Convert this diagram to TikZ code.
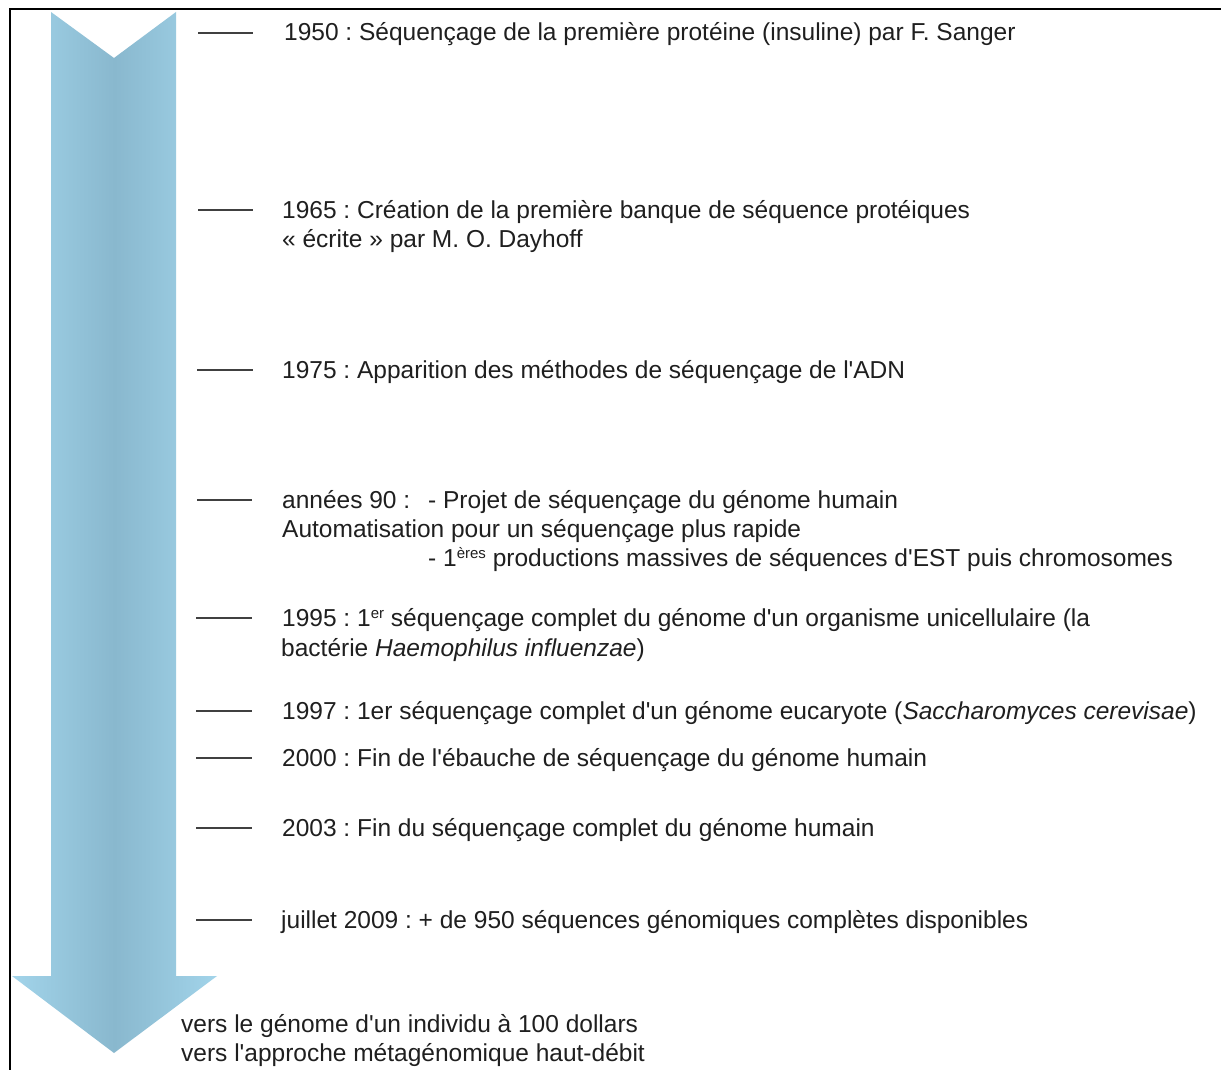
\documentclass[tikz,border=0pt]{standalone}
\usepackage{fontspec}
\setmainfont{Liberation Sans}
\definecolor{arrowedge}{RGB}{162,212,234}
\definecolor{arrowmid}{RGB}{137,184,206}
% straight apostrophe glyph, bypassing the quote mapping
\newcommand\apos{\XeTeXglyph\XeTeXglyphindex "quotesingle"\relax}
\newcommand\supx[1]{\raisebox{0.55ex}{\fontsize{15}{17}\selectfont #1}}
\begin{document}
\frenchspacing
\begin{tikzpicture}[x=1pt,y=-1pt,
  entry/.style={anchor=base west,inner sep=0pt,text=black!88,font=\fontsize{24.5}{29}\selectfont},
  tick/.style={draw=black!75,line width=1.6pt},
  frame/.style={draw=black,line width=2.2pt}]
\useasboundingbox (0,0) rectangle (1221,1070);
\fill[white] (0,0) rectangle (1221,1070);
% time arrow with horizontal gradient
\shade[left color=arrowedge, right color=arrowedge, middle color=arrowmid]
  (51,12) -- (114,58) -- (176,12) -- (176,976) -- (217,976) -- (114,1053) -- (12,976) -- (51,976) -- cycle;
% frame
\draw[frame] (10,1070) -- (10,9) -- (1221,9);
% ticks
\foreach \y/\a/\b in {33/198/253, 210/198/253, 370/197/253, 500/197/252, 618/196/252, 711/196/252, 758/196/252, 828/196/252, 920/196/252}
  \draw[tick] (\a,\y) -- (\b,\y);
% entries
\node[entry] (e1950) at (284,41) {1950 : Séquençage de la première protéine (insuline) par F. Sanger};
\node[entry] (e1965) at (282,218) {1965 : Création de la première banque de séquence protéiques};
\node[entry] (e1965b) at (282,247) {« écrite » par M. O. Dayhoff};
\node[entry] (e1975) at (282,378) {1975 : Apparition des méthodes de séquençage de l\apos ADN};
\node[entry] (e90) at (282,508) {années 90 :};
\node[entry] (e90a) at (428,508) {- Projet de séquençage du génome humain};
\node[entry] (e90b) at (282,537) {Automatisation pour un séquençage plus rapide};
\node[entry] (e90c) at (428,566) {- 1\supx{ères} productions massives de séquences d\apos EST puis chromosomes};
\node[entry] (e1995) at (282,626) {1995 : 1\supx{er} séquençage complet du génome d\apos un organisme unicellulaire (la};
\node[entry] (e1995b) at (281,656) {bactérie \textit{Haemophilus influenzae})};
\node[entry] (e1997) at (282,719) {1997 : 1er séquençage complet d\apos un génome eucaryote (\textit{Saccharomyces cerevisae})};
\node[entry] (e2000) at (282,766) {2000 : Fin de l\apos ébauche de séquençage du génome humain};
\node[entry] (e2003) at (282,836) {2003 : Fin du séquençage complet du génome humain};
\node[entry] (e2009) at (281,928) {juillet 2009 : + de 950 séquences génomiques complètes disponibles};
\node[entry] (f1) at (181,1032) {vers le génome d\apos un individu à 100 dollars};
\node[entry] (f2) at (181,1061) {vers l\apos approche métagénomique haut-débit};
\end{tikzpicture}
\end{document}
